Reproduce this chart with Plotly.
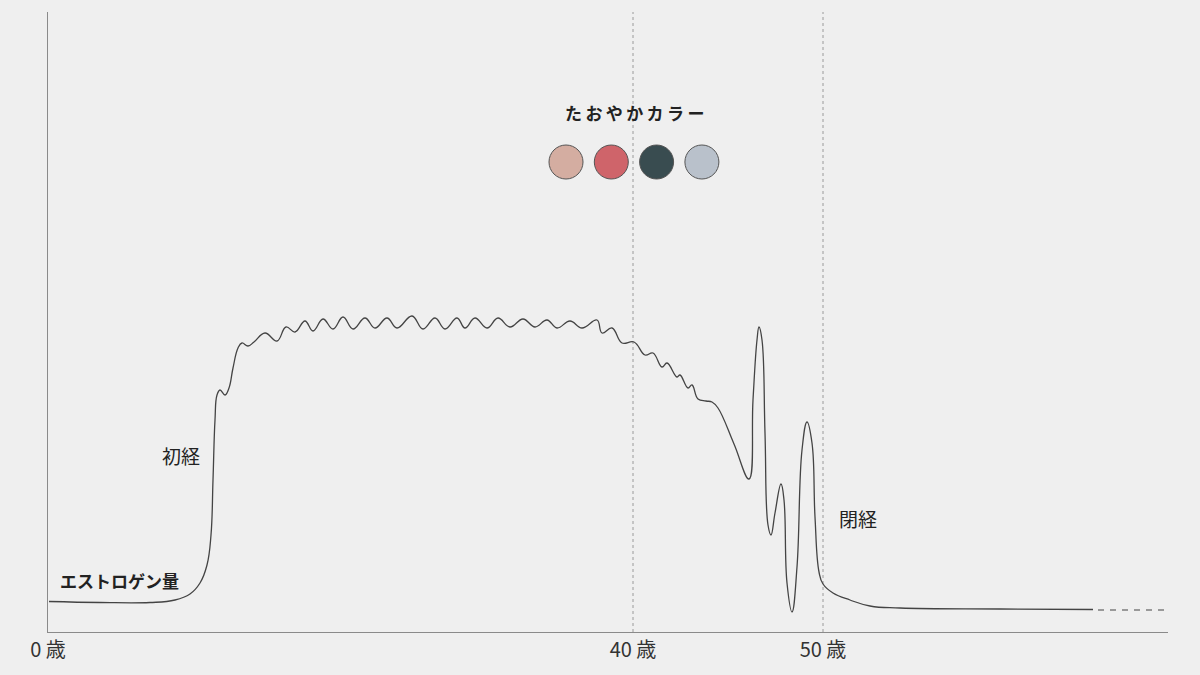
import plotly.graph_objects as go

# horizontal position (schematic, not linear in age) and estrogen level
pos = [1, 52, 102, 127, 142, 152, 159, 163, 165, 167, 169, 172, 177, 181, 185, 190, 194, 200, 206,
       217, 229, 238, 247, 257, 265, 275, 285, 295, 305, 317, 327, 339, 349, 364, 375, 387, 397,
       409, 417, 427, 439, 450, 462, 475, 487, 499, 509, 522, 534, 549, 554, 564, 574, 586,
       597, 605, 614, 619, 629, 632, 640, 644, 650, 658, 664, 670, 686,
       701, 705, 709, 711, 714, 717, 720, 723, 727, 733, 736, 739, 744, 749, 754, 759, 764, 767,
       771, 775, 785, 802, 822, 852, 952, 1045]
level = [30.5, 29.5, 29.5, 32, 38, 49, 67, 97, 152, 212, 237, 242, 237, 244, 264, 284, 289, 286, 290,
         299, 291, 305, 300, 311, 301, 313, 303, 315, 303, 314, 304, 314, 304, 316, 303, 314, 303,
         314, 304, 314, 304, 314, 305, 313, 305, 312, 304, 311, 304, 312, 299, 304, 289, 290,
         277, 279, 265, 269, 255, 257, 244, 247, 233, 231, 230, 224, 188,
         153, 232, 292, 305, 292, 199, 107, 97, 119, 148, 132, 49, 20, 65, 182, 210, 189, 115,
         60, 48, 39, 32, 26, 24, 23, 22.5]

# the curve continues as a dashed line
future_pos = [1050, 1119]
future_level = [22, 22]

tick_pos = [0, 585, 775]
tick_labels = ["0 歳", "40 歳", "50 歳"]

palette_title = "たおやかカラー"
palette = ["#D4ADA1", "#CF646A", "#394C50", "#B9C1CB"]

JP = "Noto Sans CJK JP"
INK = "#333333"
BG = "#EFEFEF"

fig = go.Figure()

fig.add_trace(go.Scatter(
    x=pos, y=level, mode="lines",
    line=dict(color="#444444", width=1.3, shape="spline", smoothing=1.2),
    hoverinfo="skip",
))
fig.add_trace(go.Scatter(
    x=future_pos, y=future_level, mode="lines",
    line=dict(color="#444444", width=1.2, dash="6px,6px"),
    hoverinfo="skip",
))

# colour swatches
fig.add_trace(go.Scatter(
    x=[518 + 45.3 * i for i in range(len(palette))],
    y=[470] * len(palette),
    mode="markers",
    marker=dict(size=34, color=palette, line=dict(color="#555555", width=1)),
    hoverinfo="skip",
))

# dotted guides at 40 and 50
for xv in tick_pos[1:]:
    fig.add_shape(type="line", x0=xv, x1=xv, y0=0, y1=620, xref="x", yref="y",
                  line=dict(color="#9a9a9a", width=1, dash="dot"), layer="below")

notes = [
    ("エストロゲン量", 10, 52, 17, True),
    ("初経", 112, 177, 19, False),
    ("閉経", 789, 114, 19, False),
]
for text, x, y, size, bold in notes:
    fig.add_annotation(x=x, y=y, text=text, showarrow=False, xanchor="left",
                       font=dict(family=JP, size=size, color="#222222",
                                 weight="bold" if bold else "normal"))

fig.add_annotation(x=586, y=520, text="\u2009".join(palette_title), showarrow=False,
                   font=dict(family=JP, size=17, color="#222222", weight="bold"))

fig.update_layout(
    width=1200, height=675,
    margin=dict(l=40, r=40, t=4, b=51),
    paper_bgcolor=BG, plot_bgcolor=BG,
    showlegend=False,
    xaxis=dict(range=[0, 1120], showgrid=False, zeroline=False,
               showline=True, linecolor="#8a8a8a", linewidth=1,
               tickvals=tick_pos, ticktext=tick_labels, ticks="",
               tickfont=dict(family=JP, size=20, color=INK)),
    yaxis=dict(range=[0, 620], showgrid=False, zeroline=False,
               showline=True, linecolor="#8a8a8a", linewidth=1,
               showticklabels=False, ticks=""),
)

# page margin would otherwise show white
fig.write_html("out.html",
               post_script="document.body.style.background='%s';"
                           "document.documentElement.style.background='%s';" % (BG, BG))
